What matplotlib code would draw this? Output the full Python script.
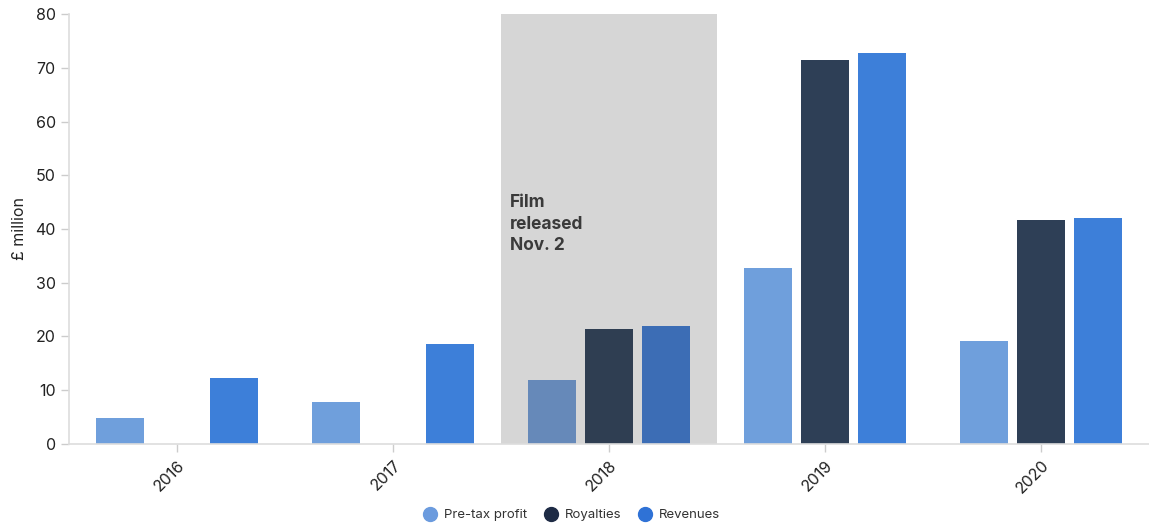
import numpy as np
import matplotlib.pyplot as plt
from matplotlib.lines import Line2D

plt.rcParams['font.family'] = ['Inter', 'DejaVu Sans']

years = ['2016', '2017', '2018', '2019', '2020']
profit = [4.9, 7.7, 11.8, 32.7, 19.2]
royalties = [0, 0, 21.3, 71.5, 41.7]
revenues = [12.3, 18.6, 22.0, 72.8, 42.0]

series_names = ['Pre-tax profit', 'Royalties', 'Revenues']
colors = ['#6f9fdc', '#2e3f56', '#3d7fd9']
# colours of the bars sitting inside the grey "film released" band
shaded_colors = ['#6689b9', '#2f3e52', '#3c6db5']
highlight = 2

fig = plt.figure(figsize=(11.49, 5.24), dpi=100)
ax = fig.add_axes([0.060, 0.153, 0.940, 0.820])

x = np.arange(len(years))
width = 0.222
offset = 0.265

# grey band behind 2018
ax.axvspan(highlight - 0.5, highlight + 0.5, ymin=0, ymax=1, color='#d6d6d6', zorder=0, lw=0)

for i, vals in enumerate([profit, royalties, revenues]):
    cols = [shaded_colors[i] if j == highlight else colors[i] for j in range(len(years))]
    ax.bar(x + (i - 1) * offset, vals, width, color=cols, zorder=2)

ax.text(highlight - 0.46, 46.5, 'Film\nreleased\nNov. 2', fontsize=12.5, fontweight='bold',
        color='#3a3a3a', va='top', ha='left', linespacing=1.35, zorder=3)

ax.set_xlim(-0.5, 4.5)
ax.set_ylim(0, 80)
ax.set_yticks(range(0, 81, 10))
ax.set_xticks(x)
ax.set_xticklabels(years, rotation=45, ha='right', rotation_mode='anchor')
ax.set_ylabel('£ million', fontsize=11.5, color='#222222', labelpad=6)

for s in ['top', 'right']:
    ax.spines[s].set_visible(False)
for s in ['left', 'bottom']:
    ax.spines[s].set_color('#dddddd')
    ax.spines[s].set_linewidth(1.2)
ax.tick_params(axis='both', colors='#cccccc', labelcolor='#222222', labelsize=11.5, length=6, width=1)
ax.tick_params(axis='x', pad=4)

handles = [Line2D([0], [0], marker='o', linestyle='', markersize=10, markerfacecolor=c, markeredgecolor=c)
           for c in ['#6b9bde', '#1e2b45', '#2f72d6']]
fig.legend(handles, series_names, loc='center', bbox_to_anchor=(0.495, 0.017), ncol=3, frameon=False,
           fontsize=9.5, handletextpad=0.05, columnspacing=0.8, labelcolor='#333333')

fig.savefig('out.png', dpi=100)
